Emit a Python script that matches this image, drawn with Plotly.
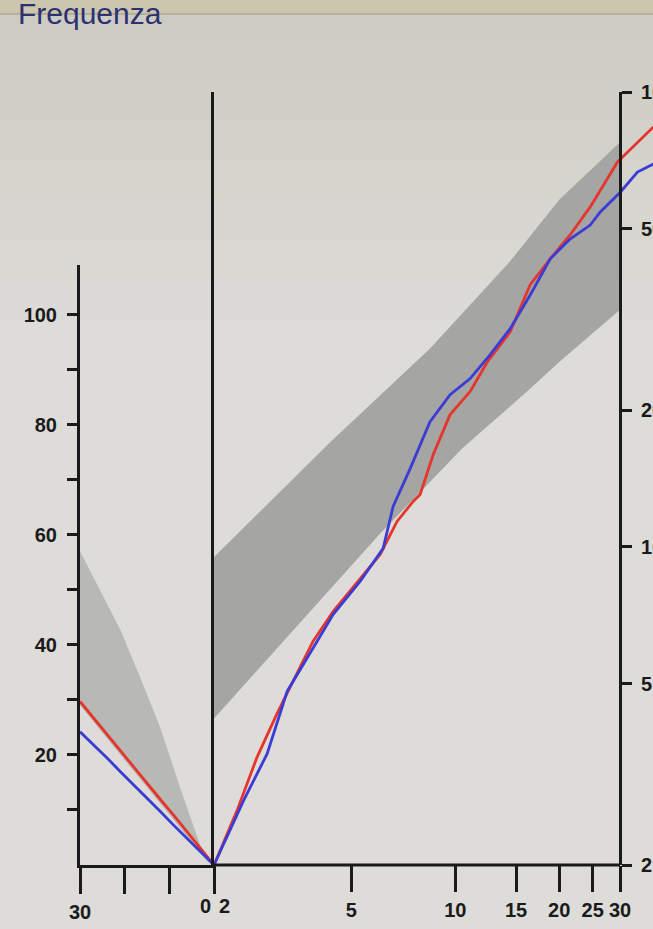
import math
import plotly.graph_objects as go

W, H = 653, 929

# ---------------- Left panel (linear scale, x runs 30 -> 0) ----------------
left_x_ticks = [30, 20, 10, 0]
left_x_ticklabels = ["30", "", "", ""]
left_y_ticks = [10, 20, 30, 40, 50, 60, 70, 80, 90, 100]
left_y_ticklabels = ["", "20", "", "40", "", "60", "", "80", "", "100"]

left_line_x = [30, 27, 24, 21, 18, 15, 12, 9, 6, 3, 0]
left_red_y = [29.7, 26.7, 23.7, 20.8, 17.9, 14.9, 11.9, 9.0, 6.0, 3.0, 0]
left_blue_y = [24.2, 21.9, 19.5, 17.0, 14.6, 12.1, 9.7, 7.2, 4.8, 2.4, 0]

left_band_upper_x = [30, 21.0, 16.6, 12.1, 7.6, 2.4, 0.8]
left_band_upper_y = [57, 42.8, 34.2, 25.1, 14.1, 2.0, 0]
left_band_lower_x = [30, 0.8]
left_band_lower_y = [29, 0]

# ---------------- Right panel (log-log) ----------------
right_x_ticks = [2, 5, 10, 15, 20, 25, 30]
right_x_ticklabels = ["", "5", "10", "15", "20", "25", "30"]
right_y_ticks = [2, 5, 10, 20, 50, 100]
right_y_ticklabels = ["2", "5", "10", "20", "50", "100"]

red_x = [2, 2.33, 2.66, 3.04, 3.39, 3.87, 4.43, 5.30, 6.06, 6.78, 7.55, 7.91,
         8.63, 9.66, 11.04, 12.38, 14.42, 16.48, 18.84, 21.5, 24.6, 29.5, 37.5]
red_y = [2, 2.63, 3.44, 4.29, 5.07, 6.20, 7.22, 8.53, 9.63, 11.38, 12.59, 13.04,
         15.96, 19.54, 21.96, 25.5, 29.7, 37.7, 43.0, 48.5, 55.9, 70.2, 83.8]
blue_x = [2, 2.43, 2.85, 3.11, 3.26, 3.87, 4.43, 5.30, 6.18, 6.61, 7.40, 8.45,
          9.66, 11.04, 12.62, 14.42, 16.48, 18.84, 21.5, 24.6, 26.3, 30.1, 33.7, 37.5]
blue_y = [2, 2.76, 3.51, 4.29, 4.82, 5.99, 7.11, 8.40, 9.93, 12.3, 14.87, 18.86,
          21.62, 23.45, 26.47, 30.18, 35.8, 43.0, 47.5, 51.0, 54.5, 60.3, 66.7, 69.5]

band_upper_x = [2, 4.34, 8.45, 14.4, 20, 30]
band_upper_y = [9.5, 17.0, 27.3, 42.4, 58, 77.5]
band_lower_x = [2, 6.06, 10.5, 16.5, 20, 30]
band_lower_y = [4.2, 10.7, 16.5, 22.3, 25.5, 33.2]

RED = "#e5352c"
BLUE = "#3b3bd6"
AX = "#1a1a1a"
FONT = dict(family="Liberation Sans, Arial, sans-serif", size=20, color="#1a1a1a", weight="bold")

fig = go.Figure()

# left band + lines
fig.add_trace(go.Scatter(
    x=left_band_upper_x + left_band_lower_x[::-1],
    y=left_band_upper_y + left_band_lower_y[::-1],
    fill="toself", fillcolor="#b8b8b5", line=dict(width=0), mode="lines",
    xaxis="x", yaxis="y", hoverinfo="skip", showlegend=False))
fig.add_trace(go.Scatter(x=left_line_x, y=left_red_y, mode="lines",
                         line=dict(color=RED, width=2.8), xaxis="x", yaxis="y", showlegend=False))
fig.add_trace(go.Scatter(x=left_line_x, y=left_blue_y, mode="lines",
                         line=dict(color=BLUE, width=2.8), xaxis="x", yaxis="y", showlegend=False))

# right band + lines
fig.add_trace(go.Scatter(
    x=band_upper_x + band_lower_x[::-1],
    y=band_upper_y + band_lower_y[::-1],
    fill="toself", fillcolor="#a5a5a3", line=dict(width=0), mode="lines",
    xaxis="x2", yaxis="y2", hoverinfo="skip", showlegend=False))
fig.add_trace(go.Scatter(x=red_x, y=red_y, mode="lines",
                         line=dict(color=RED, width=2.8), xaxis="x2", yaxis="y3", showlegend=False))
fig.add_trace(go.Scatter(x=blue_x, y=blue_y, mode="lines",
                         line=dict(color=BLUE, width=2.8), xaxis="x2", yaxis="y3", showlegend=False))

# geometry
yb = 1 - 865 / H
lx0, lx1 = 80 / W, 214 / W
rx0 = 214 / W
lo = math.log10(2)
hi = lo + (W - 214) * (math.log10(30) - lo) / (620 - 214)
frac30 = (math.log10(30) - lo) / (hi - lo)
pos30 = rx0 + (1 - rx0) * frac30

common_axis = dict(showgrid=False, zeroline=False, linecolor=AX, linewidth=3,
                   tickcolor=AX, tickwidth=3, tickfont=FONT, automargin=False)

fig.update_layout(
    width=W, height=H,
    margin=dict(l=0, r=0, t=0, b=0, autoexpand=False),
    paper_bgcolor="#dddcd9",
    plot_bgcolor="rgba(0,0,0,0)",
    showlegend=False,
    xaxis=dict(domain=[lx0, lx1], range=[30, 0], anchor="y",
               tickvals=left_x_ticks, ticktext=left_x_ticklabels,
               ticks="outside", ticklen=26, ticklabelstandoff=1, showline=True, **common_axis),
    yaxis=dict(domain=[yb, 1 - 265 / H], range=[0, 109], anchor="x",
               tickvals=left_y_ticks, ticktext=left_y_ticklabels,
               ticks="outside", ticklen=10, ticklabelstandoff=6, showline=True, **common_axis),
    xaxis2=dict(domain=[rx0, 1], type="log", range=[lo, hi], anchor="y2",
                tickvals=right_x_ticks, ticktext=right_x_ticklabels,
                ticks="outside", ticklen=26, ticklabelstandoff=1, showline=False, **common_axis),
    yaxis2=dict(domain=[yb, 1 - 92 / H], type="log", range=[lo, 2], anchor="x2",
                side="left", showline=True, ticks="", showticklabels=False, **common_axis),
    yaxis3=dict(type="log", range=[lo, 2], overlaying="y2", side="right",
                anchor="free", position=pos30,
                tickvals=right_y_ticks, ticktext=right_y_ticklabels,
                ticks="outside", ticklen=10, ticklabelstandoff=5, showline=True, **common_axis),
)

# background shading (photo-like, slightly darker toward top)
shapes = []
for i in range(8):
    shapes.append(dict(type="rect", xref="paper", yref="paper", x0=0, x1=1,
                       y0=1 - (i + 1) * 40 / H, y1=1, layer="below",
                       fillcolor="rgba(160,156,140,0.035)", line=dict(width=0)))
shapes.append(dict(type="rect", xref="paper", yref="paper", x0=0, x1=1,
                   y0=1 - 14 / H, y1=1, layer="below",
                   fillcolor="#cbc6ae", line=dict(width=0)))
shapes.append(dict(type="line", xref="paper", yref="paper", x0=0, x1=1,
                   y0=1 - 14 / H, y1=1 - 14 / H, layer="below",
                   line=dict(color="#b0aa90", width=1.5)))
# bottom axis line of right panel (from 2 to 30)
shapes.append(dict(type="line", xref="x2 domain", yref="y2 domain", x0=0, x1=frac30,
                   y0=0, y1=0, line=dict(color=AX, width=3)))
fig.update_layout(shapes=shapes)

fig.add_annotation(text="Frequenza", xref="paper", yref="paper", x=16 / W, y=1,
                   xanchor="left", yanchor="top", yshift=5, showarrow=False,
                   font=dict(family="Liberation Sans, Arial, sans-serif", size=30, color="#2d3170"))
fig.add_annotation(text="0", xref="x", yref="y", x=0, y=0, xanchor="center", yanchor="top",
                   xshift=-9, yshift=-28, showarrow=False, font=FONT)
fig.add_annotation(text="2", xref="x2", yref="y", x=math.log10(2), y=0, xanchor="center",
                   yanchor="top", xshift=10, yshift=-28, showarrow=False, font=FONT)

fig.write_html("out.html", config={"displayModeBar": False},
               post_script="document.body.style.margin='0';document.body.style.overflow='hidden';")
